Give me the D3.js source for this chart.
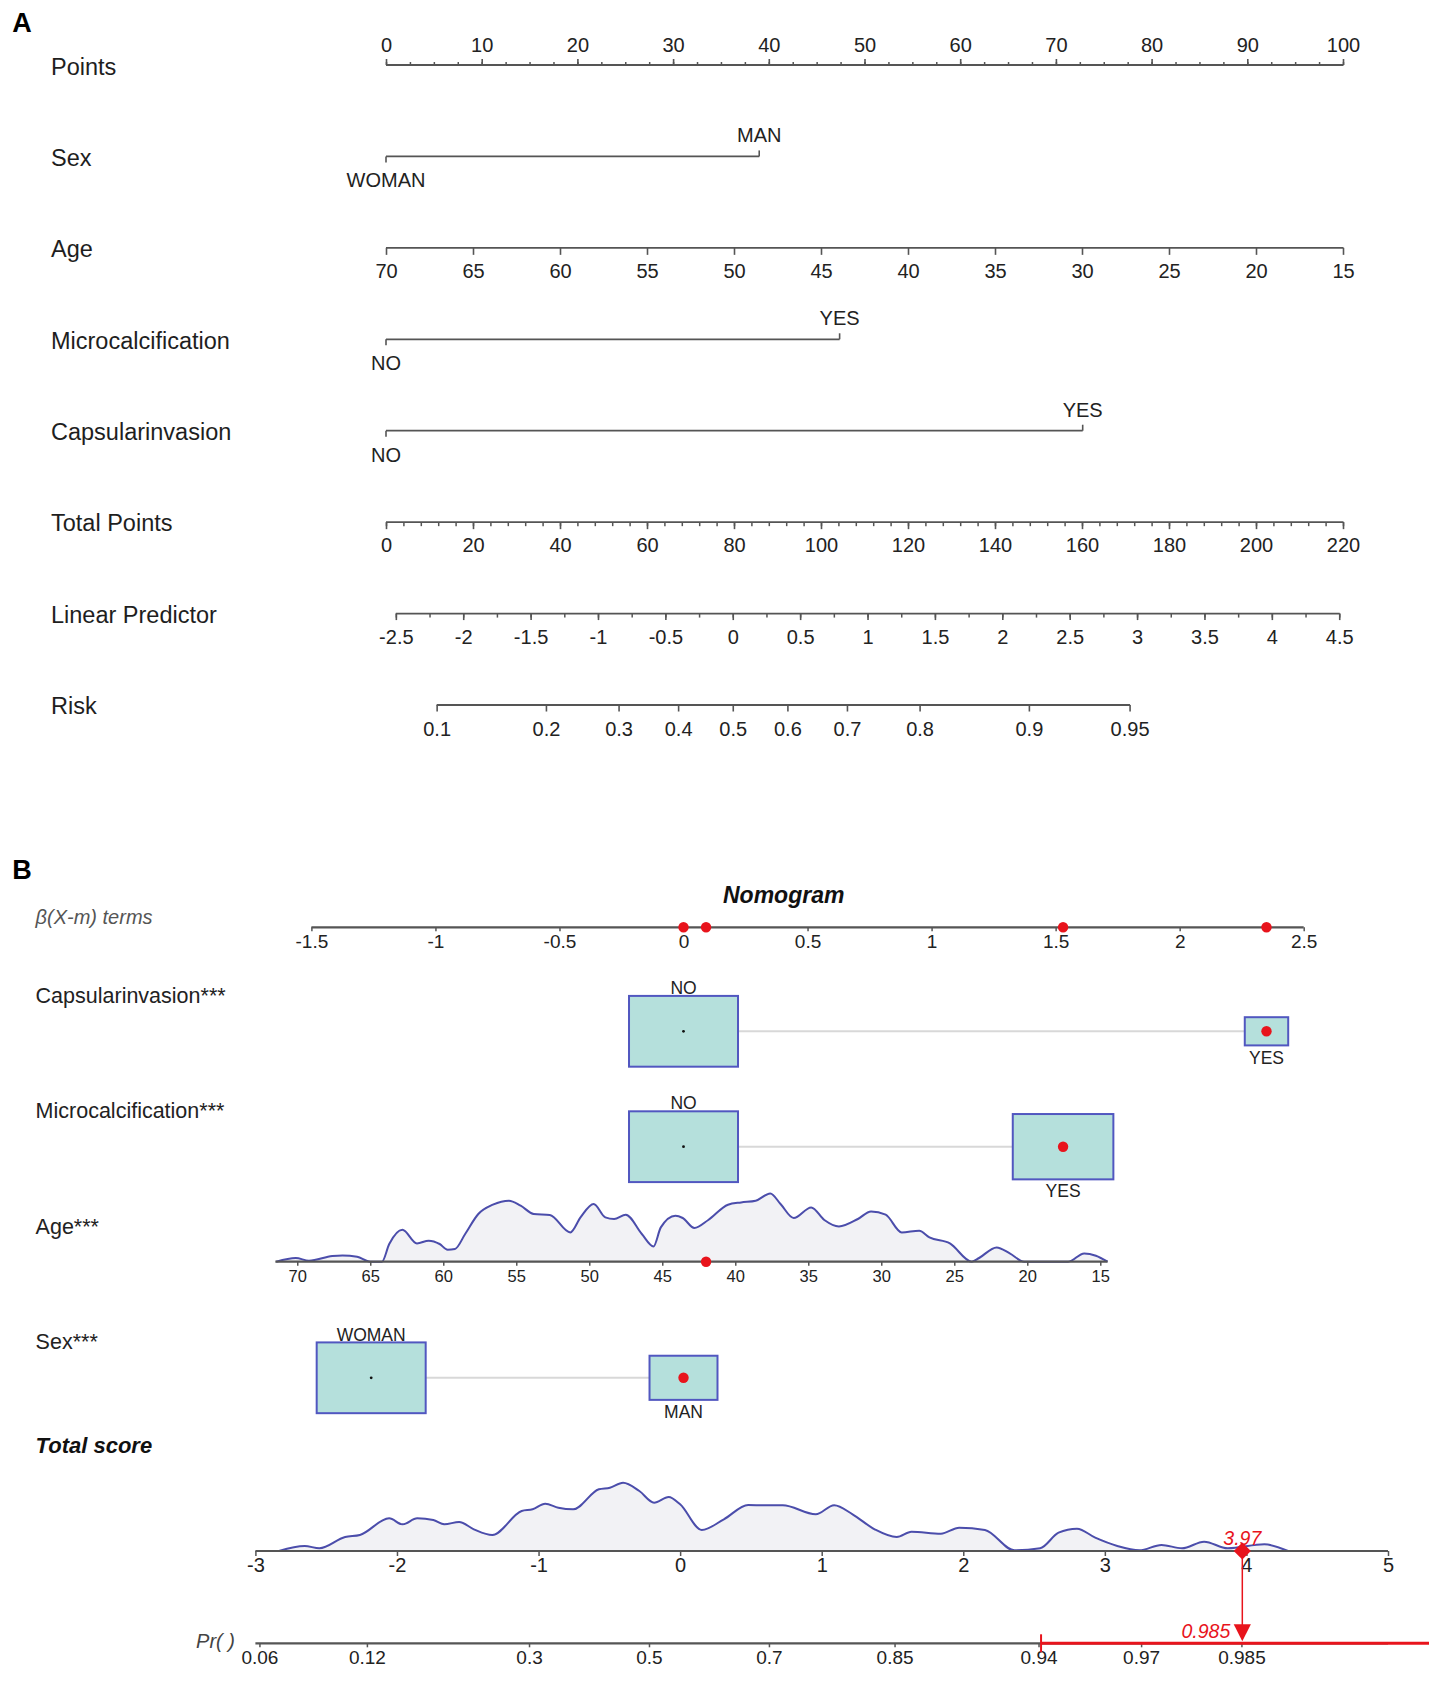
<!DOCTYPE html>
<html><head><meta charset="utf-8">
<script src="https://cdn.jsdelivr.net/npm/d3@7"></script>
<style>body{margin:0;background:#fff}svg{display:block}text{font-family:"Liberation Sans",Arial,sans-serif}</style>
</head><body>
<svg id="c" width="1429" height="1697"></svg>
<script>
// ================= Panel A data =================
const rowLabelsA = ["Points","Sex","Age","Microcalcification","Capsularinvasion","Total Points","Linear Predictor","Risk"];
const pointsTicks = [0,10,20,30,40,50,60,70,80,90,100];
const sexLevels = ["WOMAN","MAN"];
const sexPoints = [0, 39.0];
const ageTicksA = [70,65,60,55,50,45,40,35,30,25,20,15];
const agePointsRange = [0, 100];           // points at age 70 and age 15
const microLevels = ["NO","YES"];
const microPoints = [0, 47.4];
const capsLevels = ["NO","YES"];
const capsPoints = [0, 72.8];
const totalPointsTicks = [0,20,40,60,80,100,120,140,160,180,200,220];
const lpTicks = [-2.5,-2,-1.5,-1,-0.5,0,0.5,1,1.5,2,2.5,3,3.5,4,4.5];
const lpAtTotal = [-2.573, 4.528];         // linear predictor at total points 0 and 220
const riskTicks = [0.1,0.2,0.3,0.4,0.5,0.6,0.7,0.8,0.9,0.95];

// ================= Panel B data =================
const betaTicks = [-1.5,-1,-0.5,0,0.5,1,1.5,2,2.5];
const capsBeta = [0, 2.35];
const capsCounts = [863, 137];
const microBeta = [0, 1.53];
const microCounts = [540, 460];
const sexLevelsB = ["WOMAN","MAN"];
const sexBeta = [-1.259, 0];
const sexCounts = [720, 280];
const ageTicksB = [70,65,60,55,50,45,40,35,30,25,20,15];
const ageBetaAt70and15 = [-1.557, 1.68];
const ageDataRange = [71.5, 14.5];
const ageDensity = [[71.44,0],[70.1,3.7],[69.2,1],[67.6,5.7],[66.9,6.3],[65.9,5],[65.0,0],[64.2,0],[63.7,17.7],[62.8,32],[61.8,18.3],[61.0,21],[60.25,17.7],[59.7,12],[59.2,12.7],[58.5,27.7],[57.6,47.7],[56.6,57],[55.5,61],[54.7,56],[53.8,47.7],[52.7,46.7],[51.3,29.3],[50.6,44.3],[49.7,57.7],[48.9,44.3],[48.3,42.7],[47.5,47],[46.4,27.7],[45.6,15.3],[45.1,34.3],[44.1,46],[43.6,43.7],[42.8,33.7],[41.85,41.7],[40.5,57],[39.6,59.3],[38.6,61],[37.6,68.3],[36.9,57.7],[36.0,43.7],[34.8,54.3],[33.9,41.7],[32.9,35.3],[31.6,42.7],[30.7,50.3],[29.7,47],[28.6,29.3],[27.4,31],[26.7,24.3],[25.3,18.3],[23.8,0],[23.3,3.7],[22.1,14.3],[21.2,8.3],[20.2,0],[17.2,0],[16.1,8.3],[15.3,6],[14.5,0]];
const scoreTicks = [-3,-2,-1,0,1,2,3,4,5];
const scoreDensity = [[-2.834,0],[-2.652,5],[-2.548,2.7],[-2.366,14],[-2.262,16],[-2.055,32.7],[-1.961,26.7],[-1.857,32.7],[-1.743,31],[-1.665,26.7],[-1.561,29],[-1.457,21.7],[-1.327,16],[-1.119,40],[-1.042,41.7],[-0.953,47.3],[-0.860,43.3],[-0.756,41.7],[-0.574,61.7],[-0.496,63.3],[-0.403,68.3],[-0.288,60],[-0.184,48.3],[-0.081,54],[0.0,46.7],[0.153,21],[0.309,31.7],[0.481,46],[0.595,45.7],[0.725,45.7],[0.958,36.7],[1.088,45.7],[1.218,36.7],[1.374,21.7],[1.530,14],[1.634,19.3],[1.842,17.3],[1.971,23.3],[2.153,21],[2.361,0.7],[2.543,2.7],[2.673,18.3],[2.803,22.3],[2.932,13.3],[3.088,5],[3.244,0.7],[3.400,6],[3.545,2.7],[3.701,9.3],[3.868,2.7],[4.127,6.7],[4.294,0]];
const prTicks = [0.06,0.12,0.3,0.5,0.7,0.85,0.94,0.97,0.985];
const prOffset = 0.22;          // logit(Pr) = total score + offset
const prCI = [0.941, 0.996];
const selected = {caps:1, micro:1, sex:1, age:42};
const totalLabel = "3.97";
const prLabel = "0.985";

// ================= drawing =================
const svg = d3.select("#c");
svg.append("rect").attr("width",1429).attr("height",1697).attr("fill","#fff");
const FONT = '"Liberation Sans",Arial,sans-serif';
const LINE = "#555";
const RED = "#e8141c";
function txt(g,x,y,s,o={}){
  return g.append("text").attr("x",x).attr("y",y).attr("dy",o.dy||"0.35em")
    .attr("text-anchor",o.anchor||"start").attr("font-size",o.size||20)
    .attr("font-weight",o.weight||"normal").attr("font-style",o.style||"normal")
    .attr("fill",o.fill||"#222").text(s);
}
const logit = p => Math.log(p/(1-p));

// ---------- Panel A ----------
const A = svg.append("g");
const rowY = i => 65 + i*91.43;
txt(A,22,23,"A",{anchor:"middle",size:27,weight:"bold",fill:"#000"});
rowLabelsA.forEach((l,i)=>txt(A,51,rowY(i)+(i===0?2:1),l,{size:23.5,fill:"#1e1e1e"}));

const ptsX = d3.scaleLinear().domain([0,100]).range([386,1343]);

function axisA(y, scale, major, minor, up, majLen, minLen, labOff, fmt){
  const g = A.append("g").attr("transform",`translate(0,${y})`);
  const mk = () => (up? d3.axisTop(scale) : d3.axisBottom(scale)).tickSizeOuter(0);
  if (minor){
    const gm = g.append("g").call(mk().tickValues(minor).tickSize(minLen).tickFormat(""));
    gm.select(".domain").remove();
    gm.selectAll(".tick line").attr("stroke",LINE).attr("stroke-width",1.5);
  }
  const ga = g.append("g").call(mk().tickValues(major).tickSize(majLen).tickFormat(fmt || (d=>String(d))));
  ga.attr("font-family",FONT).attr("font-size",20);
  ga.select(".domain").remove();
  ga.selectAll(".tick line").attr("stroke",LINE).attr("stroke-width",1.6);
  ga.selectAll(".tick text").attr("y",labOff).attr("dy","0.35em").attr("fill","#222");
  const xs = major.map(d=>scale(d));
  g.append("line").attr("x1",d3.min(xs)).attr("x2",d3.max(xs)+0.5).attr("y1",0).attr("y2",0)
    .attr("stroke",LINE).attr("stroke-width",1.8);
}

// Points
axisA(rowY(0), ptsX, pointsTicks, d3.range(0,100.01,2.5), true, 6, 3, -20);

// categorical rows
function catA(y, levels, pts){
  const g = A.append("g");
  const xs = pts.map(p=>ptsX(p));
  g.append("line").attr("x1",xs[0]).attr("x2",xs[1]).attr("y1",y).attr("y2",y).attr("stroke",LINE).attr("stroke-width",1.8);
  xs.forEach((x,i)=>{
    const dir = i===0 ? 1 : -1;
    g.append("line").attr("x1",x).attr("x2",x).attr("y1",y).attr("y2",y+dir*6).attr("stroke",LINE).attr("stroke-width",1.6);
    txt(g,x,y+(i===0?24:-21),levels[i],{anchor:"middle",size:20});
  });
}
catA(rowY(1), sexLevels, sexPoints);

// Age
const ageX = d3.scaleLinear().domain([70,15]).range(agePointsRange.map(p=>ptsX(p)));
axisA(rowY(2), ageX, ageTicksA, null, false, 7, 0, 23.4);

catA(rowY(3), microLevels, microPoints);
catA(rowY(4), capsLevels, capsPoints);

// Total points
const tpX = d3.scaleLinear().domain([0,220]).range([ptsX(0), ptsX(100)]);
axisA(rowY(5), tpX, totalPointsTicks, d3.range(0,220.01,4), false, 7, 4, 22.7);

// Linear predictor
const lpX = d3.scaleLinear().domain(lpAtTotal).range([tpX(0), tpX(220)]);
axisA(rowY(6), lpX, lpTicks, d3.range(-2.5,4.51,0.25), false, 6.5, 4, 23.4);

// Risk
axisA(rowY(7), lpX, riskTicks.map(logit), null, false, 6.5, 0, 24, (d,i)=>String(riskTicks[i]));

// ---------- Panel B ----------
const B = svg.append("g");
txt(B,22,870,"B",{anchor:"middle",size:27,weight:"bold",fill:"#000"});
txt(B,35.6,917.3,"β(X-m) terms",{size:20,style:"italic",fill:"#555"});
txt(B,783.7,895,"Nomogram",{anchor:"middle",size:23,weight:"bold",style:"italic",fill:"#111"});

const bX = d3.scaleLinear().domain([-1.5,2.5]).range([311.4,1303.7]);

function axisB(y, scale, ticks, lineFrom, lineTo, tickLen, labOff, size, fmt){
  const g = B.append("g").attr("transform",`translate(0,${y})`);
  g.append("line").attr("x1",lineFrom).attr("x2",lineTo).attr("y1",0).attr("y2",0).attr("stroke",LINE).attr("stroke-width",2.2);
  const ga = g.append("g").call(d3.axisBottom(scale).tickValues(ticks).tickSize(tickLen).tickSizeOuter(0).tickFormat(fmt||(d=>String(d))));
  ga.attr("font-family",FONT).attr("font-size",size);
  ga.select(".domain").remove();
  ga.selectAll(".tick line").attr("stroke",LINE).attr("stroke-width",1.5);
  ga.selectAll(".tick text").attr("y",labOff).attr("dy","0.35em").attr("fill","#222");
  return g;
}

// beta axis
const betaY = 927.3;
axisB(betaY, bX, betaTicks, bX(-1.5), bX(2.5), 4, 14.4, 19);

const ageBeta = d3.scaleLinear().domain([70,15]).range(ageBetaAt70and15);
const ageBX = a => bX(ageBeta(a));

const selBetas = [capsBeta[selected.caps], microBeta[selected.micro], ageBeta(selected.age), sexBeta[selected.sex]];
B.selectAll(".bdot").data(selBetas).join("circle").attr("cx",d=>bX(d)).attr("cy",betaY).attr("r",5.2).attr("fill",RED);

// row labels
txt(B,35.6,995,"Capsularinvasion***",{size:21.5});
txt(B,35.6,1110,"Microcalcification***",{size:21.5});
txt(B,35.6,1226.7,"Age***",{size:21.5});
txt(B,35.6,1341.7,"Sex***",{size:21.5});
txt(B,35.6,1445,"Total score",{size:22,weight:"bold",style:"italic",fill:"#111"});

function catB(y, levels, betas, counts, sel){
  const g = B.append("g");
  const wS = d3.scaleSqrt().domain([0,d3.max(counts)]).range([0,109]);
  const xs = betas.map(b=>bX(b));
  g.append("line").attr("x1",xs[0]).attr("x2",xs[1]).attr("y1",y).attr("y2",y).attr("stroke","#d8d8d8").attr("stroke-width",2);
  xs.forEach((x,i)=>{
    const w = wS(counts[i]), h = w/1.54;
    g.append("rect").attr("x",x-w/2).attr("y",y-h/2).attr("width",w).attr("height",h)
      .attr("fill","#b5e0dc").attr("stroke","#5157c0").attr("stroke-width",2);
    if (i===sel) g.append("circle").attr("cx",x).attr("cy",y).attr("r",5.2).attr("fill",RED);
    else g.append("circle").attr("cx",x).attr("cy",y).attr("r",1.4).attr("fill","#111");
    if (i===0) txt(g,x,y-h/2-8,levels[i],{anchor:"middle",size:17.5,fill:"#222"});
    else txt(g,x,y+h/2+12,levels[i],{anchor:"middle",size:17.5,fill:"#222"});
  });
}
catB(1031.3, ["NO","YES"], capsBeta, capsCounts, selected.caps);
catB(1146.7, ["NO","YES"], microBeta, microCounts, selected.micro);
catB(1377.8, sexLevelsB, sexBeta, sexCounts, selected.sex);

// Age density + axis
const ageY = 1261.7;
const dY = d3.scaleLinear().domain([0,70]).range([0,70]);
const ageArea = d3.area().x(d=>ageBX(d[0])).y0(ageY).y1(d=>ageY-dY(d[1])).curve(d3.curveMonotoneX);
const ageLine = d3.line().x(d=>ageBX(d[0])).y(d=>ageY-dY(d[1])).curve(d3.curveMonotoneX);
B.append("path").datum(ageDensity).attr("d",ageArea).attr("fill","#f2f2f5");
B.append("path").datum(ageDensity).attr("d",ageLine).attr("fill","none").attr("stroke","#4b4dab").attr("stroke-width",2);
axisB(ageY, d3.scaleLinear().domain([70,15]).range([ageBX(70),ageBX(15)]), ageTicksB, ageBX(ageDataRange[0]), ageBX(ageDataRange[1]), 4, 15, 16.5);
B.append("circle").attr("cx",ageBX(selected.age)).attr("cy",ageY).attr("r",5.2).attr("fill",RED);

// Total score density + axis
const scoreY = 1551;
const sX = d3.scaleLinear().domain([-3,5]).range([255.4,1388]);
const sArea = d3.area().x(d=>sX(d[0])).y0(scoreY).y1(d=>scoreY-dY(d[1])).curve(d3.curveMonotoneX);
const sLine = d3.line().x(d=>sX(d[0])).y(d=>scoreY-dY(d[1])).curve(d3.curveMonotoneX);
B.append("path").datum(scoreDensity).attr("d",sArea).attr("fill","#f2f2f5");
B.append("path").datum(scoreDensity).attr("d",sLine).attr("fill","none").attr("stroke","#4b4dab").attr("stroke-width",2);
axisB(scoreY, sX, scoreTicks, sX(-3), sX(5), 5, 14, 20);

// Pr axis
const prY = 1643.3;
const prScale = d3.scaleLinear().domain([-3+prOffset, 5+prOffset]).range([sX(-3), sX(5)]); // logit scale
axisB(prY, prScale, prTicks.map(logit), sX(-3), sX(5), 4, 14.4, 19, (d,i)=>String(prTicks[i]));
txt(B,235,1641,"Pr( )",{anchor:"end",size:20,style:"italic",fill:"#444"});

// red prediction
const total = d3.sum(selBetas);
const tx = sX(total);
B.append("line").attr("x1",tx).attr("x2",tx).attr("y1",scoreY).attr("y2",prY-4).attr("stroke",RED).attr("stroke-width",1.5);
B.append("path").attr("d",`M${tx-8.6},${scoreY}L${tx},${scoreY-8.5}L${tx+8.6},${scoreY}L${tx},${scoreY+8.5}Z`).attr("fill",RED);
txt(B,tx,1538,totalLabel,{anchor:"middle",size:19.5,style:"italic",fill:RED});
B.append("path").attr("d",`M${tx-8.6},${prY-19}L${tx+8.6},${prY-19}L${tx},${prY-2}Z`).attr("fill",RED);
txt(B,tx-12,1631,prLabel,{anchor:"end",size:19.5,style:"italic",fill:RED});
const ciX = prCI.map(p=>prScale(logit(p)));
B.append("line").attr("x1",ciX[0]).attr("x2",ciX[1]).attr("y1",prY).attr("y2",prY).attr("stroke",RED).attr("stroke-width",3);
B.append("line").attr("x1",ciX[0]).attr("x2",ciX[0]).attr("y1",prY-9).attr("y2",prY+9).attr("stroke",RED).attr("stroke-width",2);
</script>
</body></html>
